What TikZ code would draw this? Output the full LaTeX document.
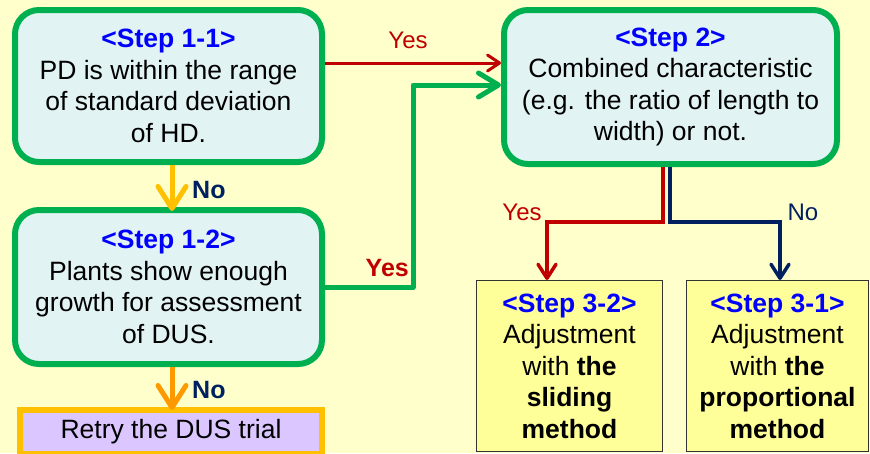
\documentclass[tikz,border=0pt]{standalone}
\usepackage{fontspec}
\setmainfont{Liberation Sans}
\usetikzlibrary{arrows.meta}

\definecolor{bgyellow}{HTML}{FFFFCC}
\definecolor{boxcyan}{HTML}{E2F3F4}
\definecolor{boxgreen}{HTML}{00B050}
\definecolor{stepblue}{HTML}{0000FF}
\definecolor{darkred}{HTML}{C00000}
\definecolor{navy}{HTML}{002060}
\definecolor{gold}{HTML}{FFC000}
\definecolor{orangearrow}{HTML}{FF9900}
\definecolor{lavender}{HTML}{DCC6FF}
\definecolor{paleyellow}{HTML}{FFFF99}
\definecolor{thinborder}{HTML}{333333}

\newcommand{\steplabel}[1]{\textcolor{stepblue}{\textbf{<Step #1>}}}

\tikzset{
  bodytext/.style={font=\fontsize{26.5}{31.5}\selectfont, align=center, text=black, inner sep=0pt},
  decision/.style={bodytext, draw=boxgreen, fill=boxcyan, line width=6pt, rounded corners=24pt},
  retrybox/.style={bodytext, draw=gold, fill=lavender, line width=6pt},
  methodbox/.style={bodytext, draw=thinborder, fill=paleyellow, line width=1pt},
  goldarrow/.style={draw=gold, line width=5pt, -{Straight Barb[length=22pt, width=28pt, round]}},
  orangearr/.style={draw=orangearrow, line width=5pt, -{Straight Barb[length=22pt, width=28pt, round]}},
  greenarrow/.style={draw=boxgreen, line width=5pt, line join=round, -{Straight Barb[length=20pt, width=24pt, round]}},
  redarrow/.style={draw=darkred, line width=3pt, -{Straight Barb[length=12pt, width=16pt, round]}},
  redbranch/.style={draw=darkred, line width=3.5pt, -{Straight Barb[length=14pt, width=18pt, round]}},
  navybranch/.style={draw=navy, line width=3.5pt, -{Straight Barb[length=14pt, width=18pt, round]}},
  boldlabel/.style={font=\fontsize{25}{30}\selectfont\bfseries, inner sep=0pt},
  plainlabel/.style={font=\fontsize{24}{28}\selectfont, inner sep=0pt}
}

\begin{document}
\begin{tikzpicture}[x=1pt, y=-1pt]
  % page and background
  \fill[bgyellow] (0,0) rectangle (870,453);
  \useasboundingbox (0,0) rectangle (870,453);

  % decision boxes
  \node[decision, minimum width=307pt, minimum height=152pt] (s11) at (168.5,86)
    {\steplabel{1-1}\\PD is within the range\\of standard deviation\\of HD.};
  \node[decision, minimum width=307pt, minimum height=154pt] (s12) at (168.5,287)
    {\steplabel{1-2}\\Plants show enough\\growth for assessment\\of DUS.};
  \node[decision, minimum width=333pt, minimum height=154pt] (s2) at (670.5,87)
    {\steplabel{2}\\Combined characteristic\\(e.g. the ratio of length to\\width) or not.};

  % outcome boxes
  \node[retrybox, minimum width=302pt, minimum height=44pt] (retry) at (171,432)
    {Retry the DUS trial};
  \node[methodbox, minimum width=186pt, minimum height=171pt] (s32) at (569.5,366)
    {\steplabel{3-2}\\Adjustment\\with \textbf{the}\\\textbf{sliding}\\\textbf{method}};
  \node[methodbox, minimum width=182pt, minimum height=171pt] (s31) at (777.5,366)
    {\steplabel{3-1}\\Adjustment\\with \textbf{the}\\\textbf{proportional}\\\textbf{method}};

  % routing points
  \coordinate (ax) at (172,0);
  \coordinate (ry) at (0,63);
  \coordinate (gA) at (413,287);
  \coordinate (gB) at (413,85);
  \coordinate (rA) at (663,222);
  \coordinate (rB) at (547,222);
  \coordinate (nA) at (670,222);
  \coordinate (nB) at (780,222);

  % step 1 chain
  \draw[goldarrow, shorten >=-4pt] (s11.south -| ax) -- (s12.north -| ax);
  \draw[orangearr, shorten >=-3pt] (s12.south -| ax) -- (retry.north -| ax);
  \node[boldlabel, text=navy, anchor=west] (no1) at (192,190) {No};
  \node[boldlabel, text=navy, anchor=west] (no2) at (192,390) {No};

  % yes branches into step 2
  \draw[redarrow] (s11.east |- ry) -- (s2.west |- ry);
  \node[plainlabel, text=darkred] (yes1) at (408,40) {Yes};
  \draw[greenarrow] (s12.east |- gA) -- (gA) -- (gB) -- (s2.west |- gB);
  \node[boldlabel, text=darkred, anchor=east] (yes2) at (409,268) {Yes};

  % step 2 outcomes
  \draw[redbranch, line join=miter] (s2.south -| rA) -- (rA) -- (rB) -- (s32.north -| rB);
  \draw[navybranch, line join=miter] (s2.south -| nA) -- (nA) -- (nB) -- (s31.north -| nB);
  \node[plainlabel, text=darkred] (yes3) at (522,212) {Yes};
  \node[plainlabel, text=navy] (no3) at (803,212) {No};
\end{tikzpicture}
\end{document}
